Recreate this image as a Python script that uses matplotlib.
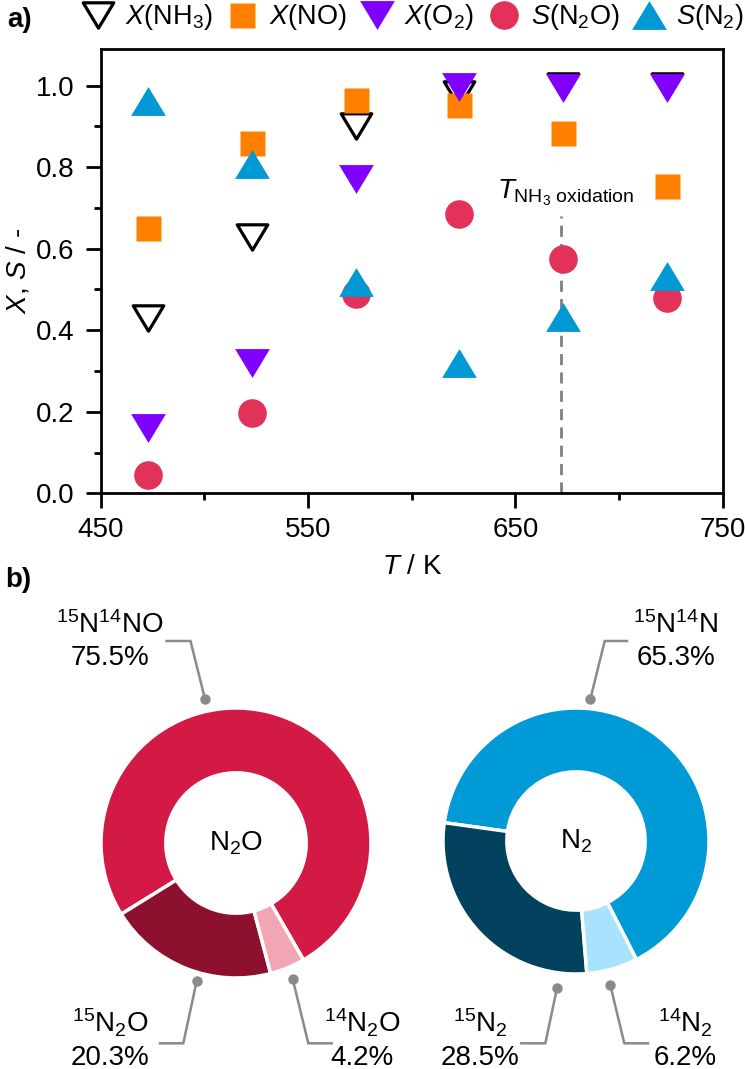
import matplotlib.pyplot as plt
from matplotlib.lines import Line2D
from matplotlib.path import Path

plt.rcParams['font.family'] = ['Liberation Sans', 'DejaVu Sans']
plt.rcParams['mathtext.fontset'] = 'custom'
plt.rcParams['mathtext.rm'] = 'Liberation Sans'
plt.rcParams['mathtext.it'] = 'Liberation Sans:italic'
plt.rcParams['mathtext.bf'] = 'Liberation Sans:bold'

# ---- data: panel a) ----
T = [473, 523, 573, 623, 673, 723]
X_NH3 = [0.43, 0.63, 0.90, 0.98, 1.00, 1.00]
X_NO = [0.65, 0.86, 0.965, 0.953, 0.885, 0.755]
X_O2 = [0.16, 0.32, 0.77, 0.997, 0.995, 0.995]
S_N2O = [0.045, 0.198, 0.49, 0.686, 0.576, 0.478]
S_N2 = [0.962, 0.809, 0.519, 0.32, 0.433, 0.533]
T_ox = 672
ox_line_top = 0.68

# ---- data: panel b) ----
n2o_labels = [r'$^{15}$N$^{14}$NO', r'$^{15}$N$_2$O', r'$^{14}$N$_2$O']
n2o_vals = [75.5, 20.3, 4.2]
n2_labels = [r'$^{15}$N$^{14}$N', r'$^{15}$N$_2$', r'$^{14}$N$_2$']
n2_vals = [65.3, 28.5, 6.2]

W, H = 745, 1069
fig = plt.figure(figsize=(W / 100, H / 100), dpi=100)

def box(x0, y0, x1, y1):
    # pixel box (top-left origin) -> figure fraction rect
    return [x0 / W, 1 - y1 / H, (x1 - x0) / W, (y1 - y0) / H]

# ---------------- panel a ----------------
ax = fig.add_axes(box(100.7, 49, 722.7, 493.3))

tri_up = Path([(-1, -0.83), (1, -0.83), (0, 0.83), (-1, -0.83)], closed=True)
tri_dn = Path([(-1, 0.83), (1, 0.83), (0, -0.83), (-1, 0.83)], closed=True)

styles = [
    (X_NH3, dict(marker=tri_dn, ms=22, mfc='none', mec='black', mew=2.3), r'$X$(NH$_3$)'),
    (X_NO, dict(marker='s', ms=18, mfc='#FF8000', mec='none'), r'$X$(NO)'),
    (X_O2, dict(marker=tri_dn, ms=25, mfc='#8000FF', mec='none'), r'$X$(O$_2$)'),
    (S_N2O, dict(marker='o', ms=20.6, mfc='#E2325A', mec='none'), r'$S$(N$_2$O)'),
    (S_N2, dict(marker=tri_up, ms=25, mfc='#0099D4', mec='none'), r'$S$(N$_2$)'),
]
handles = []
labels = []
for i, (vals, st, lab) in enumerate(styles):
    ax.plot(T, vals, linestyle='none', zorder=3 + i, clip_on=False, **st)
    handles.append(Line2D([], [], linestyle='none', **st))
    labels.append(lab)

ax.plot([T_ox, T_ox], [0, ox_line_top], color='#808080', lw=2,
        linestyle=(0, (4, 2.6)), zorder=2)
ax.text(641, 0.723, r'$T_{\mathrm{NH_3\ oxidation}}$', fontsize=20,
        va='baseline', ha='left')

ax.set_xlim(450, 750)
ax.set_ylim(0, 1.09)
ax.set_xticks([450, 550, 650, 750])
ax.set_xticks([500, 600, 700], minor=True)
ax.set_yticks([0.0, 0.2, 0.4, 0.6, 0.8, 1.0])
ax.set_yticks([0.1, 0.3, 0.5, 0.7, 0.9], minor=True)
ax.set_yticklabels(['0.0', '0.2', '0.4', '0.6', '0.8', '1.0'])
for s in ax.spines.values():
    s.set_linewidth(2)
ax.tick_params(which='major', direction='out', length=11, width=2, labelsize=20)
ax.tick_params(which='minor', direction='out', length=5, width=2)
ax.tick_params(axis='x', which='major', pad=6)
ax.tick_params(axis='y', which='major', pad=8)
ax.set_xlabel(r'$T$ / K', fontsize=20, labelpad=8)
ax.set_ylabel(r'$X$, $S$ / -', fontsize=20, labelpad=3)

fig.legend(handles, labels, ncol=5, loc='center',
           bbox_to_anchor=(412 / W, 1 - 17 / H), frameon=False, fontsize=19.5,
           handlelength=1.3, handletextpad=0.35, columnspacing=0.45,
           borderpad=0, borderaxespad=0)

fig.text(7 / W, 1 - 20 / H, 'a)', fontsize=20, fontweight='bold', va='center')
fig.text(5 / W, 1 - 580 / H, 'b)', fontsize=20, fontweight='bold', va='center')

# ---------------- panel b ----------------
def donut(cx, cy, R, vals, colors, start, center_txt):
    m = 1.05
    a = fig.add_axes(box(cx - R * m, cy - R * m, cx + R * m, cy + R * m))
    a.pie(vals, colors=colors, startangle=start, counterclock=True, radius=1,
          wedgeprops=dict(width=0.48, edgecolor='white', linewidth=2.5))
    a.set_xlim(-m, m)
    a.set_ylim(-m, m)
    a.text(0, 0, center_txt, ha='center', va='center', fontsize=20)
    return a

donut(236, 843, 135, n2o_vals, ['#D31A45', '#8E102F', '#F2A5B4'], -60, r'N$_2$O')
donut(576, 841, 133, n2_vals, ['#009BD6', '#02425F', '#A9E2FC'], -63, r'N$_2$')

ov = fig.add_axes([0, 0, 1, 1], zorder=10)
ov.set_xlim(0, W)
ov.set_ylim(H, 0)
ov.axis('off')

# leader layout: dot, corner, end, label centre x, label y, pct y
leaders = [
    ((205, 699), (190.5, 641), (166.5, 641), 110, 625, 658),
    ((196.7, 981), (183.3, 1043.3), (160, 1043.3), 110, 1023, 1058),
    ((292.7, 979), (308.3, 1043.3), (331.7, 1043.3), 362, 1023, 1058),
    ((590.3, 699.3), (604.7, 641), (627, 641), 676, 625, 658),
    ((557, 988.3), (545.3, 1043.3), (521.3, 1043.3), 480, 1023, 1058),
    ((610.3, 985), (624.3, 1043.3), (648, 1043.3), 685, 1023, 1058),
]
all_labels = n2o_labels + n2_labels
all_vals = n2o_vals + n2_vals
gray = '#8a8a8a'
for (dot, corner, end, tx, ly, py), lab, v in zip(leaders, all_labels, all_vals):
    ov.plot([dot[0], corner[0], end[0]], [dot[1], corner[1], end[1]],
            color=gray, lw=1.8, solid_joinstyle='miter')
    ov.plot(dot[0], dot[1], 'o', color=gray, ms=7.5, mec='none')
    ov.text(tx, ly, lab, ha='center', va='center', fontsize=20)
    ov.text(tx, py, f'{v:.1f}%', ha='center', va='center', fontsize=20)

fig.savefig('out.png', dpi=100)
